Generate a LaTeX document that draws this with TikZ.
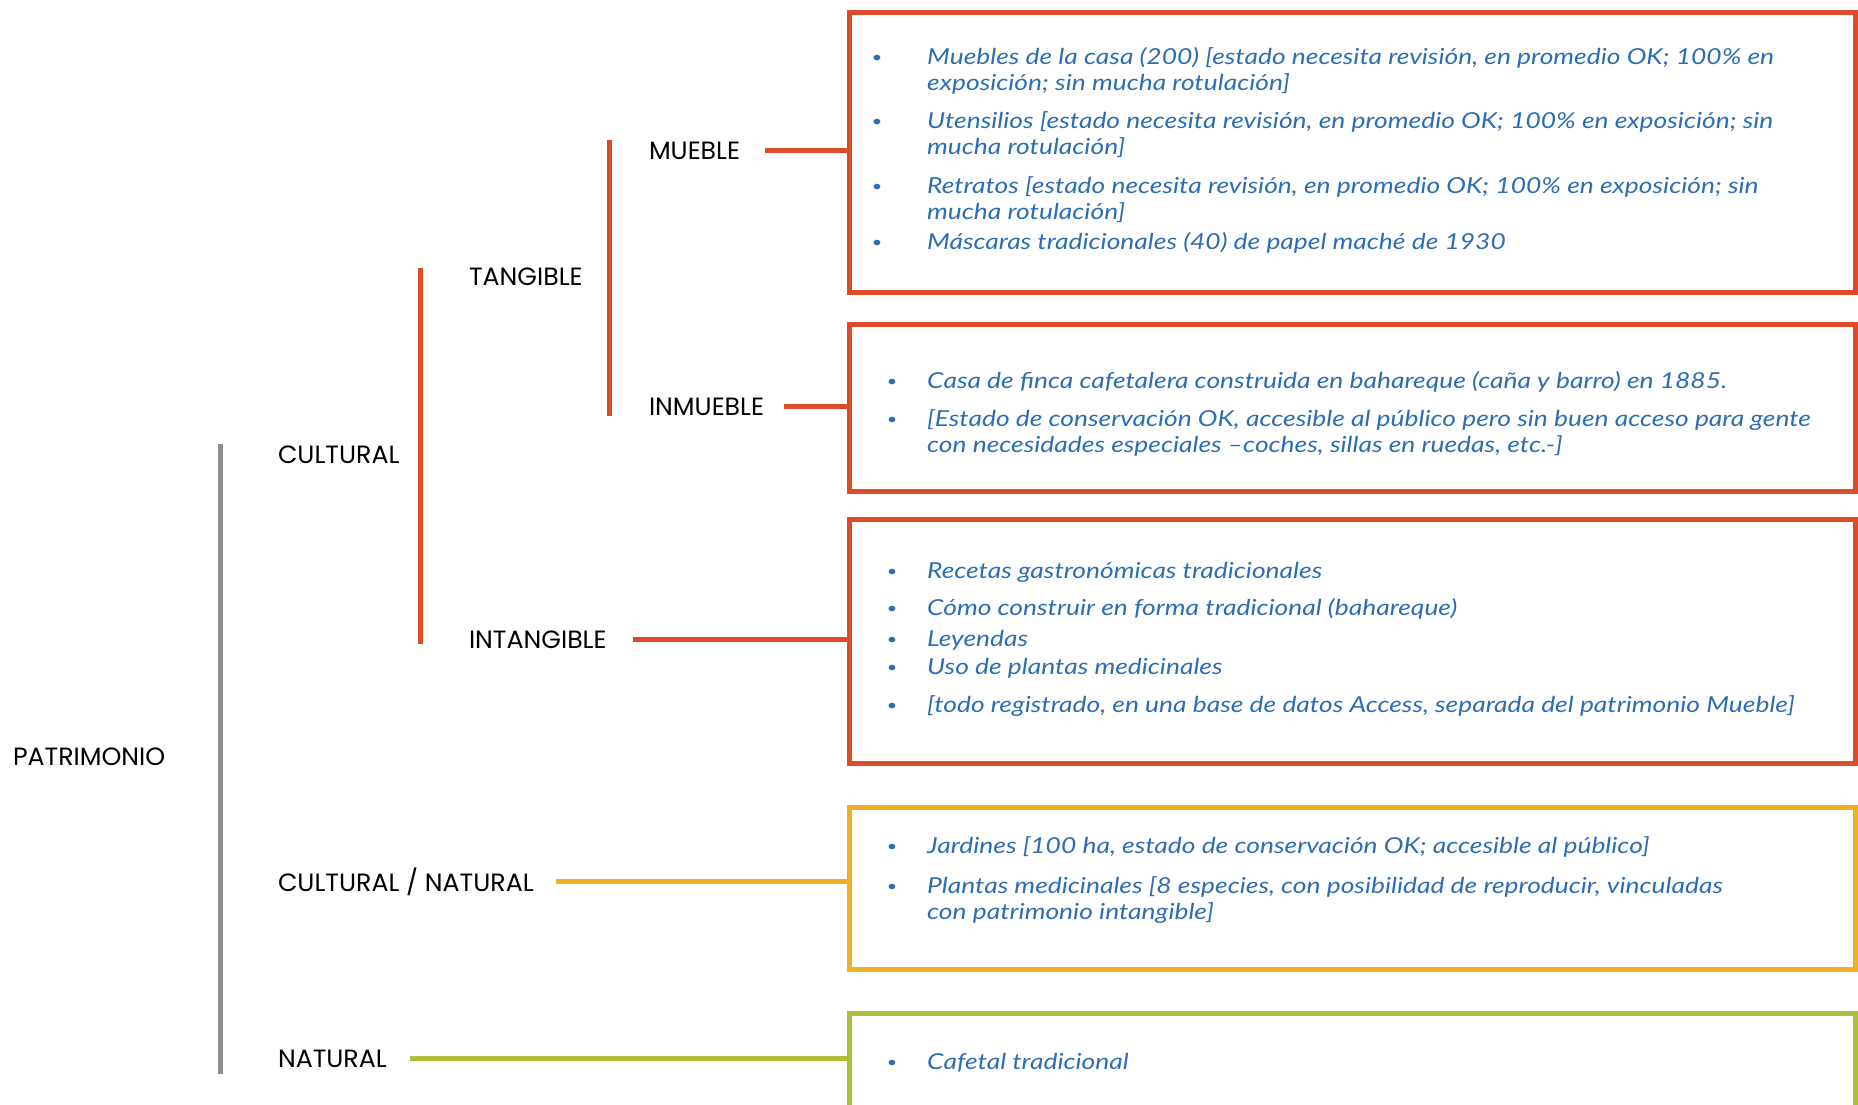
\documentclass[tikz,border=0pt]{standalone}
\usepackage{fontspec}
\newfontfamily\labelfont{Poppins}[FakeStretch=1.01]
\newfontfamily\notefont{Lato}[FakeStretch=1.2]
\definecolor{culture}{HTML}{DD4B29}
\definecolor{mixed}{HTML}{EFB023}
\definecolor{nature}{HTML}{AFBE3A}
\definecolor{root}{HTML}{8F8F8F}
\definecolor{notes}{HTML}{2C6DB4}
% small bullet hung to the left of the first line of an item
\newcommand\bul[1]{\makebox[0pt][r]{\raisebox{1.5pt}{\fontsize{15}{15}\selectfont\textbullet}\hspace{#1}}}
\tikzset{
  lbl/.style={anchor=base west, inner sep=0pt, outer sep=0pt, text=black,
    font=\labelfont\fontsize{25}{28}\selectfont},
  note/.style={anchor=base west, inner sep=0pt, align=left, text=notes,
    font=\notefont\itshape\fontsize{22}{26}\selectfont},
  frame/.style={draw=#1, line width=5pt, rectangle, inner sep=0pt, outer sep=0pt,
    anchor=north west, minimum width=1005.5pt},
  link/.style={draw=#1, line width=5.5pt},
  bar/.style={draw=#1, line width=5pt},
}
\begin{document}
\begin{tikzpicture}[x=1pt,y=-1pt]
\useasboundingbox (0,0) rectangle (1858,1104);
\clip (0,0) rectangle (1858,1104);

% category labels
\node[lbl] (pat)  at (13,765)  {PATRIMONIO};
\node[lbl] (cul)  at (278,463) {CULTURAL};
\node[lbl] (cn)   at (278,891) {CULTURAL / NATURAL};
\node[lbl] (nat)  at (278,1067) {NATURAL};
\node[lbl] (tan)  at (469,285) {TANGIBLE};
\node[lbl] (int)  at (469,648) {INTANGIBLE};
\node[lbl] (mue)  at (649,159) {MUEBLE};
\node[lbl] (inm)  at (649,415) {INMUEBLE};

% bracket bars
\coordinate (g1) at (220,444);  \coordinate (g2) at (220,1074);
\coordinate (c1) at (420,268);  \coordinate (c2) at (420,644);
\coordinate (t1) at (609,140);  \coordinate (t2) at (609,416);
\draw[bar=root]    (g1) -- (g2);
\draw[bar=culture] (c1) -- (c2);
\draw[bar=culture] (t1) -- (t2);

% detail frames
\node[frame=culture, minimum height=280pt] (b1) at (849.5,12) {};
\node[frame=culture, minimum height=167pt] (b2) at (849.5,324) {};
\node[frame=culture, minimum height=244pt] (b3) at (849.5,519) {};
\node[frame=mixed,   minimum height=162pt] (b4) at (849.5,807) {};
\node[frame=nature,  minimum height=110pt] (b5) at (849.5,1013.5) {};

% connectors from labels to frames
\draw[link=culture] ([xshift=25pt]mue.east) -- (mue.east -| b1.west);
\draw[link=culture] ([xshift=20pt]inm.east) -- (inm.east -| b2.west);
\draw[link=culture] ([xshift=26pt]int.east) -- (int.east -| b3.west);
\draw[link=mixed]   ([xshift=22pt]cn.east)  -- (cn.east -| b4.west);
\draw[link=nature]  ([xshift=23pt]nat.east) -- (nat.east -| b5.west);

% items: muebles (multi-line nodes sit on the baseline of their last line)
\node[note] (m1) at (927,90)  {\bul{45pt}Muebles de la casa (200) [estado necesita revisión, en promedio OK; 100\% en\\exposición; sin mucha rotulación]};
\node[note] (m2) at (927,154) {\bul{45pt}Utensilios [estado necesita revisión, en promedio OK; 100\% en exposición; sin\\mucha rotulación]};
\node[note] (m3) at (927,219) {\bul{45pt}Retratos [estado necesita revisión, en promedio OK; 100\% en exposición; sin\\mucha rotulación]};
\node[note] (m4) at (927,249) {\bul{45pt}Máscaras tradicionales (40) de papel maché de 1930};

% items: inmuebles
\node[note] (i1) at (927,388) {\bul{30pt}Casa de finca cafetalera construida en bahareque (caña y barro) en 1885.};
\node[note] (i2) at (927,452) {\bul{30pt}[Estado de conservación OK, accesible al público pero sin buen acceso para gente\\con necesidades especiales –coches, sillas en ruedas, etc.-]};

% items: intangible
\node[note] (n1) at (927,578) {\bul{30pt}Recetas gastronómicas tradicionales};
\node[note] (n2) at (927,615) {\bul{30pt}Cómo construir en forma tradicional (bahareque)};
\node[note] (n3) at (927,646) {\bul{30pt}Leyendas};
\node[note] (n4) at (927,674) {\bul{30pt}Uso de plantas medicinales};
\node[note] (n5) at (927,712) {\bul{30pt}[todo registrado, en una base de datos Access, separada del patrimonio Mueble]};

% items: cultural / natural
\node[note] (j1) at (927,853) {\bul{30pt}Jardines [100 ha, estado de conservación OK; accesible al público]};
\node[note] (j2) at (927,919) {\bul{30pt}Plantas medicinales [8 especies, con posibilidad de reproducir, vinculadas\\con patrimonio intangible]};

% items: natural
\node[note] (k1) at (927,1069) {\bul{30pt}Cafetal tradicional};
\end{tikzpicture}
\end{document}
